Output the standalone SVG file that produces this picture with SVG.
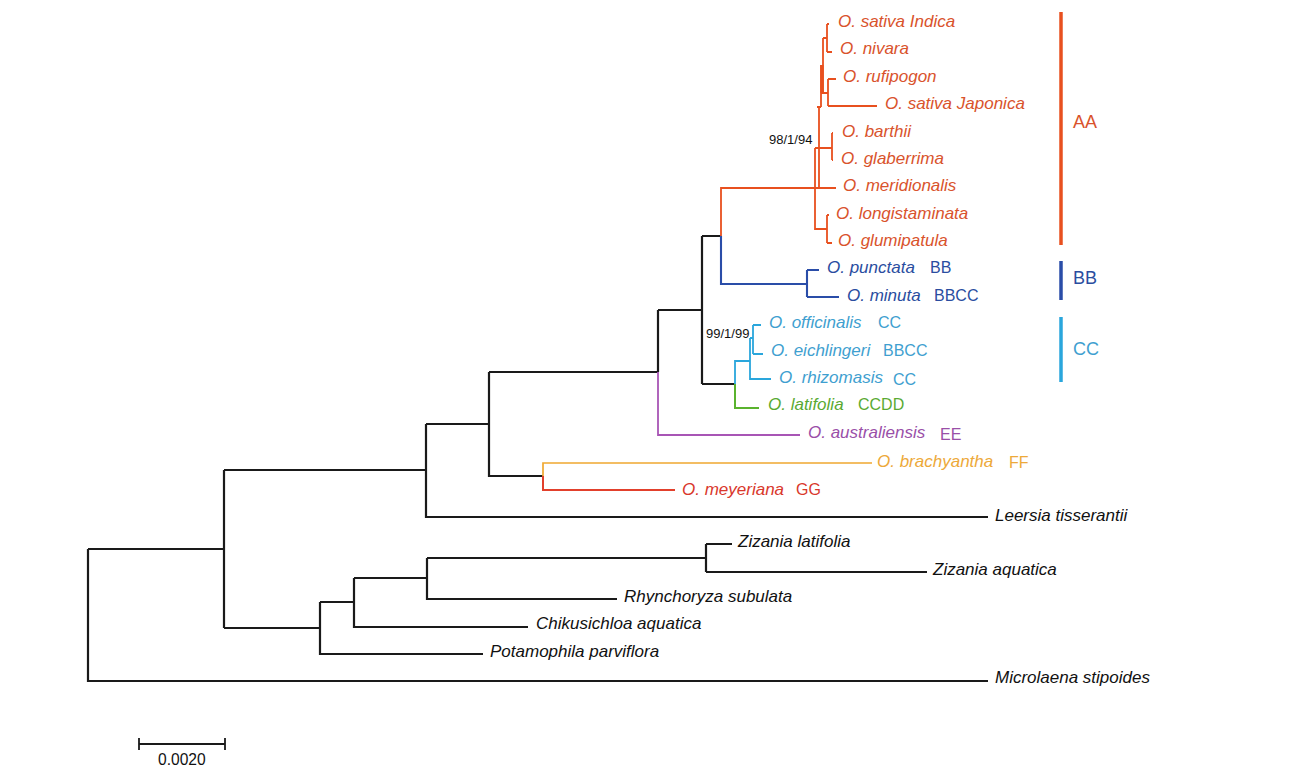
<svg xmlns="http://www.w3.org/2000/svg" width="1314" height="775" viewBox="0 0 1314 775">
<style>
text{font-family:"Liberation Sans",Arial,sans-serif;font-size:16px}
.s{font-style:italic;font-size:17px}
.k{fill:#111}.a{fill:#d9532c}.b{fill:#2a4da0}.c{fill:#3f9fd0}.g{fill:#5aaa32}.p{fill:#9a4fa8}.y{fill:#eda93a}.r{fill:#d9382c}
.n{font-size:13px;fill:#111}
path{fill:none;stroke-linejoin:miter}
.lk{stroke:#1a1a1a;stroke-width:2.2}.la{stroke:#e8501f;stroke-width:1.8}.lb{stroke:#2a4da8;stroke-width:2.1}.lc{stroke:#2aa6dc;stroke-width:1.8}.lg{stroke:#5ab32e;stroke-width:2}.lp{stroke:#a855b5;stroke-width:1.8}.ly{stroke:#f0a830;stroke-width:1.7}.lr{stroke:#e2402c;stroke-width:2}
</style>
<rect width="1314" height="775" fill="#fff"/>
<g id="connectors">
<path class="lk" d="M88 549V681H988M88 549H224M224 470V628M224 470H426M426 424V517H988M426 424H489M489 372V476H543M489 372H658M658 310V372M658 310H702M702 236V384M702 236H721M702 384H735M224 628H320M320 602V654H483M320 602H354M354 578V627H528M354 578H427M427 558V599H617M427 558H706M706 544V572M706 544H732M706 572H927"/>
<path class="la" d="M721 236V188H815M815 148V229H827M815 148H832M832 133V160M832 133H833M832 160H833M819 107V188M815 188H836M817 107H821M821 107V65M827 215V243M827 215H829M827 243H832M823 38V93M823 38H827M827 24V52M827 24H829M827 52H832M821 93H828M828 79V106M828 79H836M828 106H877"/>
<path style="stroke:#e8501f;stroke-width:3.2" d="M822 65V93"/>
<path class="lb" d="M721 236V284H807M807 270V297M807 270H819M807 297H839"/>
<path class="lc" d="M735 384V361H750M750 338V379H771M750 338H753M753 325V354M753 325H761M753 354H763"/>
<path class="lg" d="M735 384V408H759"/>
<path class="lp" d="M658 372V435H800"/>
<path class="ly" d="M543 476V463H872"/>
<path class="lr" d="M543 476V490H675"/>
</g>
<g id="bars">
<path d="M1061 12V245" style="stroke:#e8501f;stroke-width:3.5"/>
<path d="M1061 261V300" style="stroke:#2a4da8;stroke-width:3.5"/>
<path d="M1061 317V382" style="stroke:#2aa6dc;stroke-width:3.5"/>
<path d="M139 738V750M225 738V750M139 744H225" style="stroke:#1a1a1a;stroke-width:1.8"/>
</g>
<g id="labels">
<text class="s a" x="838" y="26.500">O. sativa Indica</text>
<text class="s a" x="840" y="53.500">O. nivara</text>
<text class="s a" x="843" y="81.500">O. rufipogon</text>
<text class="s a" x="885" y="108.500">O. sativa Japonica</text>
<text class="s a" x="842" y="136.500">O. barthii</text>
<text class="s a" x="841" y="163.500">O. glaberrima</text>
<text class="s a" x="843" y="190.500">O. meridionalis</text>
<text class="s a" x="836" y="218.500">O. longistaminata</text>
<text class="s a" x="838" y="245.500">O. glumipatula</text>
<text class="s b" x="827" y="272.500">O. punctata</text><text class="b" x="930" y="272.500">BB</text>
<text class="s b" x="847" y="300.500">O. minuta</text><text class="b" x="934" y="300.500">BBCC</text>
<text class="s c" x="769" y="327.500">O. officinalis</text><text class="c" x="878" y="327.500">CC</text>
<text class="s c" x="771" y="355.500">O. eichlingeri</text><text class="c" x="883" y="355.500">BBCC</text>
<text class="s c" x="779" y="382.500">O. rhizomasis</text><text class="c" x="893" y="384.500">CC</text>
<text class="s g" x="768" y="409.500">O. latifolia</text><text class="g" x="858" y="409.500">CCDD</text>
<text class="s p" x="808" y="437.500">O. australiensis</text><text class="p" x="940" y="439.500">EE</text>
<text class="s y" x="877" y="466.500">O. brachyantha</text><text class="y" x="1009" y="467.500">FF</text>
<text class="s r" x="682" y="494.500">O. meyeriana</text><text class="r" x="796" y="494.500">GG</text>
<text class="s k" x="995" y="520.500">Leersia tisserantii</text>
<text class="s k" x="738" y="546.500">Zizania latifolia</text>
<text class="s k" x="933" y="574.500">Zizania aquatica</text>
<text class="s k" x="624" y="601.500">Rhynchoryza subulata</text>
<text class="s k" x="536" y="629">Chikusichloa aquatica</text>
<text class="s k" x="490" y="656.500">Potamophila parviflora</text>
<text class="s k" x="995" y="683">Microlaena stipoides</text>
<text class="n" x="769" y="144">98/1/94</text>
<text class="n" x="706" y="338">99/1/99</text>
<text class="a" x="1073" y="128" style="font-size:18px">AA</text>
<text class="b" x="1073" y="284" style="font-size:18px">BB</text>
<text class="c" x="1073" y="355" style="font-size:18px">CC</text>
<text class="k" x="158" y="765" style="font-size:15.600px">0.0020</text>
</g>
</svg>
